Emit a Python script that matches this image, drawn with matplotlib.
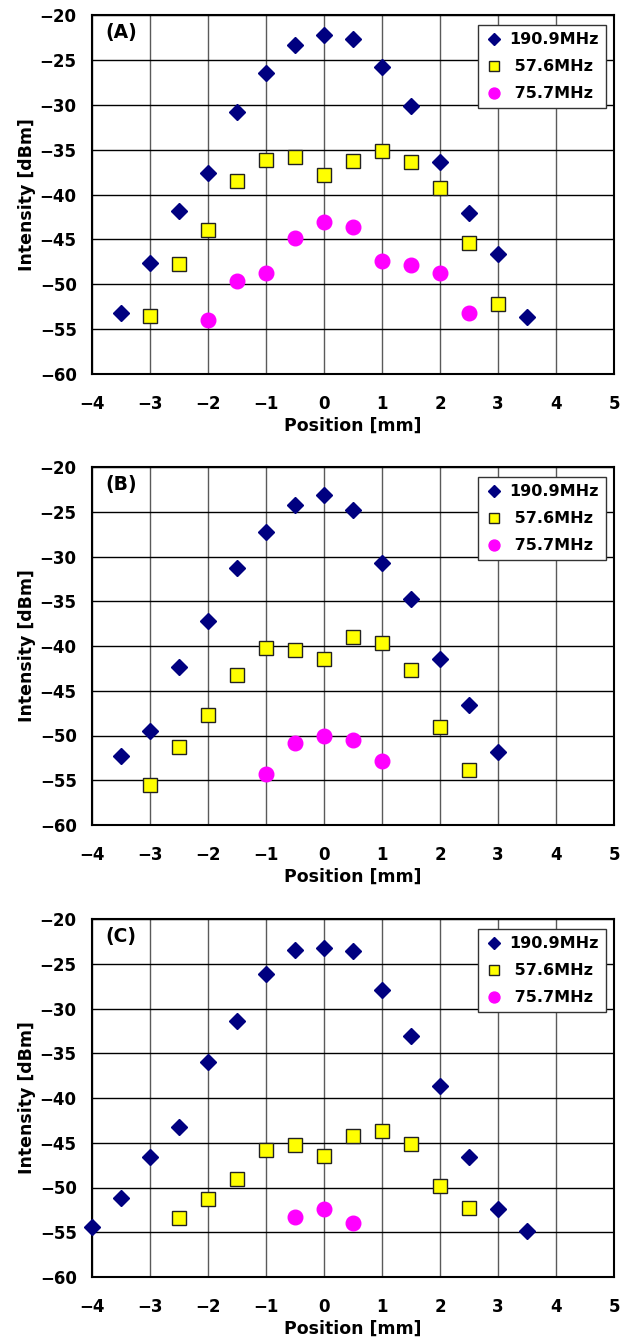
import matplotlib
matplotlib.use("Agg")
import matplotlib.pyplot as plt

plt.rcParams['font.family'] = ['DejaVu Sans']
plt.rcParams['font.weight'] = 'bold'

# ---- data ----
panel_labels = ["(A)", "(B)", "(C)"]
series_names = ["190.9MHz", " 57.6MHz", " 75.7MHz"]
x_ticks = [-4, -3, -2, -1, 0, 1, 2, 3, 4, 5]
y_ticks = [-60, -55, -50, -45, -40, -35, -30, -25, -20]

# Panel A
a_x_190 = [-3.5, -3, -2.5, -2, -1.5, -1, -0.5, 0, 0.5, 1, 1.5, 2, 2.5, 3, 3.5]
a_y_190 = [-53.2, -47.6, -41.8, -37.6, -30.8, -26.5, -23.3, -22.2, -22.7, -25.8, -30.1, -36.4, -42.1, -46.6, -53.7]
a_x_576 = [-3, -2.5, -2, -1.5, -1, -0.5, 0, 0.5, 1, 1.5, 2, 2.5, 3]
a_y_576 = [-53.5, -47.7, -44.0, -38.5, -36.2, -35.8, -37.8, -36.3, -35.2, -36.4, -39.3, -45.4, -52.2]
a_x_757 = [-2, -1.5, -1, -0.5, 0, 0.5, 1, 1.5, 2, 2.5]
a_y_757 = [-54.0, -49.6, -48.8, -44.8, -43.1, -43.6, -47.4, -47.8, -48.8, -53.2]

# Panel B
b_x_190 = [-3.5, -3, -2.5, -2, -1.5, -1, -0.5, 0, 0.5, 1, 1.5, 2, 2.5, 3]
b_y_190 = [-52.3, -49.5, -42.4, -37.2, -31.3, -27.3, -24.2, -23.1, -24.8, -30.7, -34.8, -41.5, -46.6, -51.8]
b_x_576 = [-3, -2.5, -2, -1.5, -1, -0.5, 0, 0.5, 1, 1.5, 2, 2.5]
b_y_576 = [-55.5, -51.3, -47.7, -43.2, -40.2, -40.5, -41.5, -39.0, -39.7, -42.7, -49.1, -53.8]
b_x_757 = [-1, -0.5, 0, 0.5, 1]
b_y_757 = [-54.3, -50.8, -50.0, -50.5, -52.8]

# Panel C
c_x_190 = [-4, -3.5, -3, -2.5, -2, -1.5, -1, -0.5, 0, 0.5, 1, 1.5, 2, 2.5, 3, 3.5]
c_y_190 = [-54.4, -51.2, -46.6, -43.2, -36.0, -31.4, -26.1, -23.5, -23.2, -23.6, -27.9, -33.1, -38.7, -46.6, -52.4, -54.9]
c_x_576 = [-2.5, -2, -1.5, -1, -0.5, 0, 0.5, 1, 1.5, 2, 2.5]
c_y_576 = [-53.4, -51.3, -49.1, -45.8, -45.2, -46.5, -44.3, -43.7, -45.1, -49.8, -52.3]
c_x_757 = [-0.5, 0, 0.5]
c_y_757 = [-53.3, -52.4, -54.0]

panels = [
    (a_x_190, a_y_190, a_x_576, a_y_576, a_x_757, a_y_757),
    (b_x_190, b_y_190, b_x_576, b_y_576, b_x_757, b_y_757),
    (c_x_190, c_y_190, c_x_576, c_y_576, c_x_757, c_y_757),
]

W, H = 620, 1339
fig = plt.figure(figsize=(W / 100, H / 100), dpi=100)

tops = [15, 467, 919]
bottoms = [374, 825, 1277]
left, right = 92, 614

for i, (x1, y1, x2, y2, x3, y3) in enumerate(panels):
    ax = fig.add_axes([left / W, 1 - bottoms[i] / H, (right - left) / W, (bottoms[i] - tops[i]) / H])
    ax.set_xlim(-4, 5)
    ax.set_ylim(-60, -20)
    ax.set_xticks(x_ticks)
    ax.set_yticks(y_ticks)
    ax.set_xticklabels([str(t).replace('-', '\u2212') for t in x_ticks], fontsize=12, fontweight='bold')
    ax.set_yticklabels([str(t).replace('-', '\u2212') for t in y_ticks], fontsize=12, fontweight='bold')
    ax.tick_params(axis='x', length=0, pad=15)
    ax.tick_params(axis='y', length=0, pad=11)
    ax.xaxis.grid(True, color='#5a5a5a', linewidth=1.0)
    ax.yaxis.grid(True, color='black', linewidth=1.0)
    ax.set_axisbelow(True)
    for s in ax.spines.values():
        s.set_linewidth(1.5)
        s.set_color('black')
    ax.plot(x1, y1, linestyle='none', marker='D', markersize=8.5, color='#000080',
            markeredgecolor='#000080', label=series_names[0], clip_on=False, zorder=3)
    ax.plot(x2, y2, linestyle='none', marker='s', markersize=10, markerfacecolor='#FFFF00',
            markeredgecolor='#222222', markeredgewidth=1.0, label=series_names[1], clip_on=False, zorder=3)
    ax.plot(x3, y3, linestyle='none', marker='o', markersize=10.5, color='#FF00FF',
            markeredgecolor='#FF00FF', label=series_names[2], clip_on=False, zorder=3)
    ax.set_xlabel('Position [mm]', fontsize=12.5, fontweight='bold', labelpad=3)
    ax.set_ylabel('Intensity [dBm]', fontsize=12.5, fontweight='bold', labelpad=3)
    ax.text(0.025, 0.95, panel_labels[i], transform=ax.transAxes, fontsize=13.5,
            fontweight='bold', ha='left', va='center')
    leg = ax.legend(loc='upper right', bbox_to_anchor=(0.985, 0.972), fontsize=11.5,
                    frameon=True, fancybox=False, edgecolor='#333333', framealpha=1,
                    handletextpad=0.5, borderpad=0.45, labelspacing=0.75, handlelength=1.0,
                    borderaxespad=0, markerscale=0.75)
    leg.get_frame().set_linewidth(1.0)
    for t in leg.get_texts():
        t.set_fontweight('bold')

fig.savefig('out.png', dpi=100)
